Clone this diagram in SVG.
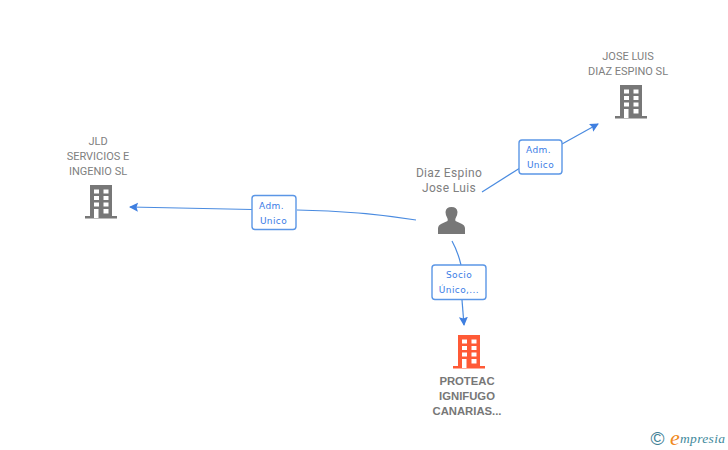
<svg xmlns="http://www.w3.org/2000/svg" xmlns:xlink="http://www.w3.org/1999/xlink" width="728" height="450" viewBox="0 0 728 450">
<style>
.lbl{font-family:Roboto,"Liberation Sans",sans-serif;font-size:11px;fill:#808080;text-anchor:middle}
.per{font-size:12px;letter-spacing:.35px}
.bold{font-family:"Liberation Sans",Arial,sans-serif;font-size:11.300px;font-weight:bold;fill:#777;text-anchor:middle}
.edge{fill:none;stroke:#4a8be0;stroke-width:1.200}
.box{fill:#fff;stroke:#5b96e6;stroke-width:1.400}
.et{font-family:"DejaVu Sans",sans-serif;font-size:9px;fill:#3a7ce6;text-anchor:middle;letter-spacing:.4px}
.w{fill:#fff}
</style>
<defs>
<marker id="arr" markerWidth="11" markerHeight="10" refX="8" refY="4.500" orient="auto" markerUnits="userSpaceOnUse"><path d="M0 0L9 4.500L0 9L1.500 4.500Z" fill="#3f7fe0"/></marker>
<g id="bld">
<path d="M5 0H27V31H32V33.500H0V31H5Z"/>
<path class="w" d="M9 4.500h5v4h-5zM18.500 4.500h5v4h-5zM9 11h5v4h-5zM18.500 11h5v4h-5zM9 17.500h5v4h-5zM18.500 17.500h5v4h-5zM9 24h4.500v9h-4.500zM18.500 24h5v4.500h-5z"/>
</g>
</defs>
<rect width="728" height="450" fill="#fff"/>
<g id="connectors">
<path class="edge" d="M482 192L520 168"/>
<path class="edge" marker-end="url(#arr)" d="M562 144L598 124"/>
<path class="edge" d="M416 220Q360 211 297 210"/>
<path class="edge" marker-end="url(#arr)" d="M252 209.500L130 207"/>
<path class="edge" d="M452 241Q458 252 461 265"/>
<path class="edge" marker-end="url(#arr)" d="M462 300Q463 312 464 325"/>
<g id="edge-label-1"><rect class="box" x="519" y="140" width="43" height="34" rx="3"/><text class="et" x="538.500" y="153">Adm.</text><text class="et" x="540.500" y="168">Unico</text></g>
<g id="edge-label-2"><rect class="box" x="252" y="195.500" width="44" height="34" rx="3"/><text class="et" x="271.500" y="209">Adm.</text><text class="et" x="273.500" y="224">Unico</text></g>
<g id="edge-label-3"><rect class="box" x="432" y="265" width="54" height="34.500" rx="3"/><text class="et" x="459" y="278">Socio</text><text class="et" x="459" y="293">Único,...</text></g>
</g>
<g id="node-jose-luis-sl" fill="#777">
<text class="lbl" x="628" y="60">JOSE LUIS</text><text class="lbl" x="628" y="75">DIAZ ESPINO SL</text>
<use xlink:href="#bld" x="615" y="85"/>
</g>
<g id="node-jld" fill="#777">
<text class="lbl" x="98" y="145">JLD</text><text class="lbl" x="98" y="160">SERVICIOS E</text><text class="lbl" x="98" y="175">INGENIO SL</text>
<use xlink:href="#bld" x="85" y="185"/>
</g>
<g id="node-person" fill="#777">
<text class="lbl per" x="449" y="177">Diaz Espino</text><text class="lbl per" x="449" y="192">Jose Luis</text>
<path d="M438 234V228.500Q438 225 442 223.500L447.500 221Q448 219.500 447.500 218.500Q445.500 215.500 445.500 212Q446 207 451.500 207Q457 207 457.500 212Q457.500 215.500 455.500 218.500Q455 219.500 455.500 221L461 223.500Q465 225 465 228.500V234Z"/>
</g>
<g id="node-proteac" fill="#ff5a36">
<use xlink:href="#bld" x="453" y="335"/>
<text class="bold" x="467" y="384.500">PROTEAC</text><text class="bold" x="467" y="399.500">IGNIFUGO</text><text class="bold" x="467" y="415">CANARIAS...</text>
</g>
<g id="logo">
<text x="657.500" y="445" font-family="Liberation Sans,sans-serif" font-size="19" fill="#3f7f95" text-anchor="middle">©</text>
<text x="670" y="445" font-family="Liberation Serif,serif" font-size="22" font-style="italic" fill="#f08a1d">e</text>
<text x="680" y="443" font-family="Liberation Serif,serif" font-size="13.500" font-style="italic" fill="#3f8a9c" textLength="45">mpresia</text>
</g>
</svg>
